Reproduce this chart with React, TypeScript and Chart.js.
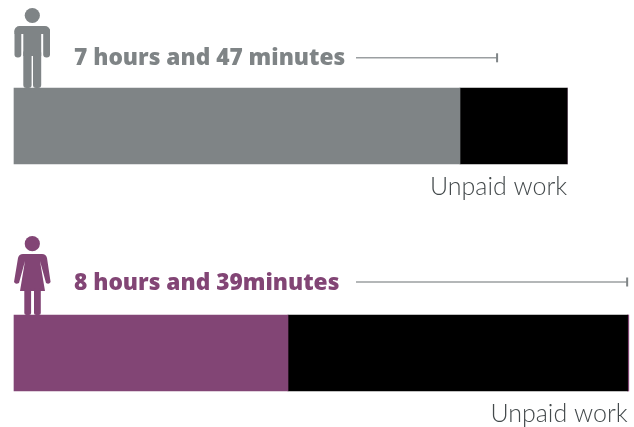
import React, { useEffect, useRef } from "react";
import { Chart, registerables } from "chart.js";

Chart.register(...registerables);

const categories = ["Men", "Women"];
const paidMinutes = [376.5, 231.3];
const unpaidMinutes = [90.5, 286.7];
const remainderMinutes = [0, 1];
const headlines = ["7 hours and 47 minutes", "8 hours and 39minutes"];
const rangeStart = [288.7, 288.7];
const rangeEnd = [407.8, 517.6];
const barLabel = "Unpaid work";
const GREY = "#7f8486";
const PURPLE = "#824575";

function roundRect(ctx: any, x: number, y: number, w: number, h: number, r: number) {
  ctx.beginPath();
  ctx.roundRect(x, y, w, h, r);
  ctx.fill();
}

function drawMan(ctx: any, bx: number, by: number) {
  ctx.fillStyle = GREY;
  const x = bx - 14, y = by - 88;
  ctx.beginPath();
  ctx.arc(x + 32.3, y + 15.5, 7.6, 0, Math.PI * 2);
  ctx.fill();
  ctx.beginPath();
  ctx.roundRect(x + 14.5, y + 26, 35.5, 8, [5, 5, 0, 0]);
  ctx.fill();
  roundRect(ctx, x + 14.5, y + 28, 6.8, 29.5, 3.2);
  roundRect(ctx, x + 43.2, y + 28, 6.8, 29.5, 3.2);
  ctx.fillRect(x + 23.3, y + 30, 17.9, 26);
  roundRect(ctx, x + 23.3, y + 50, 8.3, 38, 3);
  roundRect(ctx, x + 33, y + 50, 8.2, 38, 3);
}

function drawWoman(ctx: any, bx: number, by: number) {
  ctx.fillStyle = PURPLE;
  const x = bx - 14, y = by - 315;
  ctx.beginPath();
  ctx.arc(x + 32.3, y + 243.7, 7.6, 0, Math.PI * 2);
  ctx.fill();
  ctx.beginPath();
  ctx.moveTo(x + 23, y + 254);
  ctx.lineTo(x + 42, y + 254);
  ctx.quadraticCurveTo(x + 46, y + 254, x + 47, y + 258);
  ctx.lineTo(x + 50.6, y + 282);
  ctx.quadraticCurveTo(x + 49, y + 285, x + 46, y + 283);
  ctx.lineTo(x + 40, y + 261);
  ctx.lineTo(x + 45, y + 291);
  ctx.lineTo(x + 20, y + 291);
  ctx.lineTo(x + 25, y + 261);
  ctx.lineTo(x + 19, y + 283);
  ctx.quadraticCurveTo(x + 15.5, y + 285, x + 14, y + 282);
  ctx.lineTo(x + 18, y + 258);
  ctx.quadraticCurveTo(x + 19, y + 254, x + 23, y + 254);
  ctx.closePath();
  ctx.fill();
  roundRect(ctx, x + 24.3, y + 288, 6.8, 27, 2);
  roundRect(ctx, x + 34, y + 288, 6.8, 27, 2);
}

const annotations = {
  id: "annotations",
  afterDatasetsDraw(chart: any) {
    const { ctx, scales } = chart;
    const xs = scales.x;
    const ys = scales.y;
    const zero = xs.getPixelForValue(0);
    categories.forEach((_, i) => {
      const cy = ys.getPixelForValue(i);
      const top = cy - 38;
      const bottom = cy + 38;
      const total = paidMinutes[i] + unpaidMinutes[i];
      ctx.save();
      if (i === 0) drawMan(ctx, zero, top);
      else drawWoman(ctx, zero, top);

      const ly = i === 0 ? top - 30.2 : top - 33;
      ctx.strokeStyle = "#9b9fa1";
      ctx.lineWidth = 1.4;
      ctx.beginPath();
      ctx.moveTo(xs.getPixelForValue(rangeStart[i]), ly);
      ctx.lineTo(xs.getPixelForValue(rangeEnd[i]), ly);
      ctx.stroke();
      ctx.fillStyle = "#7f8486";
      ctx.fillRect(xs.getPixelForValue(rangeEnd[i]) - 1, ly - 4.5, 2, 9);

      ctx.textBaseline = "alphabetic";
      ctx.textAlign = "left";
      ctx.font = "800 22.7px 'Open Sans'";
      ctx.fillStyle = i === 0 ? GREY : PURPLE;
      ctx.fillText(headlines[i], zero + 60, top - (i === 0 ? 23 : 25));

      ctx.textAlign = "right";
      ctx.font = "300 25px Lato";
      ctx.fillStyle = "#444a4c";
      ctx.fillText(barLabel, xs.getPixelForValue(total), bottom + 31);
      ctx.restore();
    });
  },
};

export default function App() {
  const ref = useRef<HTMLCanvasElement>(null);
  useEffect(() => {
    const chart = new Chart(ref.current as any, {
      type: "bar",
      data: {
        labels: categories,
        datasets: [
          { label: "Paid work", data: paidMinutes, backgroundColor: [GREY, PURPLE], clip: false },
          { label: barLabel, data: unpaidMinutes, backgroundColor: "#000000", clip: false },
          { label: "Remainder", data: remainderMinutes, backgroundColor: PURPLE, clip: false },
        ] as any,
      },
      options: {
        indexAxis: "y",
        animation: false,
        responsive: false,
        barThickness: 76,
        layout: { padding: { left: 14, right: 4, top: 126, bottom: 74 } },
        plugins: { legend: { display: false }, tooltip: { enabled: false } },
        scales: {
          x: { type: "linear", stacked: true, min: 0, max: 520, display: false },
          y: { type: "category", stacked: true, offset: false, display: false },
        },
      } as any,
      plugins: [annotations],
    });
    return () => chart.destroy();
  }, []);
  return (
    <div style={{ position: "absolute", left: 0, top: 0, width: 634, height: 427, background: "#fff", overflow: "hidden" }}>
      <canvas ref={ref} width={634} height={427} style={{ display: "block" }} />
    </div>
  );
}
